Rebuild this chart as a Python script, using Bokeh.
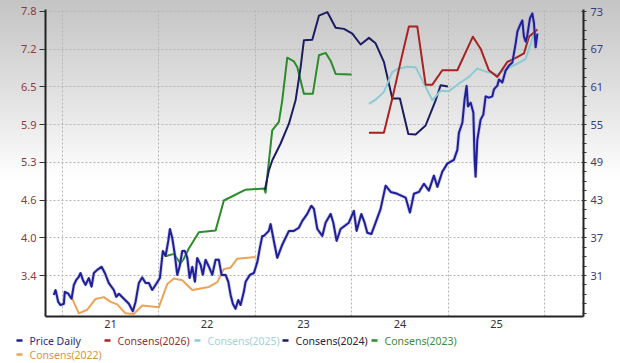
from bokeh.plotting import figure
from bokeh.models import Range1d, LinearAxis, FixedTicker, ColumnDataSource
from bokeh.embed import file_html
from bokeh.resources import INLINE

# ---------------- data ----------------
price_dates = [2020.412, 2020.430, 2020.458, 2020.482, 2020.516, 2020.526, 2020.562, 2020.596, 2020.620, 2020.645,
               2020.671, 2020.689, 2020.713, 2020.741, 2020.775, 2020.803, 2020.827, 2020.862, 2020.907, 2020.941,
               2020.982, 2021.034, 2021.059, 2021.086, 2021.138, 2021.190, 2021.231, 2021.259, 2021.293, 2021.328,
               2021.363, 2021.397, 2021.432, 2021.466, 2021.511, 2021.542, 2021.570, 2021.598, 2021.615, 2021.639,
               2021.666, 2021.691, 2021.715, 2021.743, 2021.770, 2021.795, 2021.819, 2021.847, 2021.874, 2021.898,
               2021.933, 2021.956, 2021.984, 2022.019, 2022.054, 2022.088, 2022.122, 2022.150, 2022.192, 2022.220,
               2022.244, 2022.267, 2022.295, 2022.323, 2022.347, 2022.381, 2022.399, 2022.444, 2022.485, 2022.520,
               2022.547, 2022.572, 2022.589, 2022.640, 2022.658, 2022.692, 2022.727, 2022.779, 2022.848, 2022.899,
               2022.951, 2022.987, 2023.038, 2023.080, 2023.107, 2023.142, 2023.194, 2023.228, 2023.280, 2023.308,
               2023.342, 2023.383, 2023.469, 2023.521, 2023.549, 2023.598, 2023.632, 2023.660, 2023.702, 2023.746,
               2023.798, 2023.850, 2023.902, 2023.971, 2024.057, 2024.102, 2024.143, 2024.195, 2024.247, 2024.298,
               2024.350, 2024.386, 2024.437, 2024.489, 2024.557, 2024.593, 2024.609, 2024.645, 2024.668, 2024.689,
               2024.703, 2024.731, 2024.759, 2024.772, 2024.782, 2024.800, 2024.834, 2024.862, 2024.886, 2024.920,
               2024.955, 2024.972, 2025.007, 2025.024, 2025.059, 2025.093, 2025.128, 2025.163, 2025.197, 2025.215,
               2025.241, 2025.266, 2025.283, 2025.301, 2025.318, 2025.345, 2025.370, 2025.387, 2025.404, 2025.422]
price_values = [27.9, 28.7, 26.8, 26.3, 26.5, 28.4, 28.1, 27.3, 29.5, 30.3,
                30.8, 31.4, 30.3, 29.5, 30.6, 29.2, 31.4, 31.9, 32.4, 31.4,
                29.8, 28.7, 27.6, 28.1, 27.3, 26.5, 25.3, 26.8, 29.8, 30.7,
                29.8, 29.8, 28.7, 29.5, 30.6, 34.9, 34.1, 36.5, 38.4, 37.0,
                34.3, 31.1, 32.4, 34.9, 34.9, 33.8, 30.6, 32.4, 30.0, 33.8,
                32.7, 31.1, 33.5, 32.4, 31.1, 33.5, 33.5, 31.1, 31.1, 30.0,
                27.9, 26.5, 25.7, 27.1, 26.3, 28.4, 30.0, 31.1, 31.4, 33.1,
                35.4, 37.3, 37.3, 38.1, 39.2, 36.5, 33.8, 35.9, 38.1, 38.1,
                38.6, 39.7, 40.8, 42.1, 41.6, 38.4, 37.3, 39.4, 40.8, 39.4,
                36.5, 38.4, 39.4, 41.3, 38.1, 40.8, 39.4, 37.8, 37.6, 39.4,
                41.6, 45.3, 44.3, 44.0, 43.4, 41.0, 44.0, 44.3, 45.6, 44.5,
                46.9, 45.1, 47.5, 48.8, 49.4, 51.0, 53.7, 55.3, 59.0, 61.2,
                57.9, 58.5, 56.9, 49.4, 46.7, 52.6, 55.8, 56.6, 59.5, 59.3,
                59.5, 60.6, 61.2, 62.2, 61.7, 63.6, 64.4, 64.9, 67.9, 69.8,
                70.8, 71.6, 69.0, 68.2, 69.2, 71.9, 72.7, 71.1, 67.3, 69.5]

cons2022_dates = [2020.596, 2020.671, 2020.759, 2020.845, 2020.931, 2021.000, 2021.069, 2021.155, 2021.241, 2021.328,
                  2021.500, 2021.588, 2021.656, 2021.743, 2021.847, 2022.019, 2022.106, 2022.174, 2022.244, 2022.313,
                  2022.503]
cons2022_values = [3.04, 2.77, 2.83, 3.01, 3.04, 2.96, 2.92, 2.77, 2.76, 2.90,
                   2.87, 3.26, 3.35, 3.32, 3.16, 3.21, 3.29, 3.51, 3.53, 3.68,
                   3.71]

cons2023_dates = [2021.570, 2021.656, 2021.725, 2021.759, 2021.811, 2021.915, 2022.088, 2022.174, 2022.399, 2022.589,
                  2022.606, 2022.675, 2022.744, 2022.779, 2022.831, 2022.899, 2022.935, 2023.003, 2023.096, 2023.159,
                  2023.228, 2023.280, 2023.332, 2023.497]
cons2023_values = [3.72, 3.76, 3.60, 3.68, 3.85, 4.12, 4.15, 4.65, 4.83, 4.85,
                   4.78, 5.82, 5.96, 6.32, 7.03, 6.97, 6.87, 6.43, 6.43, 7.07,
                   7.11, 6.98, 6.76, 6.75]

cons2024_dates = [2022.599, 2022.640, 2022.676, 2022.762, 2022.848, 2022.917, 2022.969, 2023.003, 2023.090, 2023.159,
                  2023.246, 2023.332, 2023.418, 2023.505, 2023.591, 2023.677, 2023.746, 2023.832, 2023.919, 2023.998,
                  2024.085, 2024.161, 2024.264, 2024.368, 2024.420, 2024.495]
cons2024_values = [4.83, 5.15, 5.32, 5.60, 5.93, 6.32, 6.87, 7.32, 7.33, 7.73,
                   7.79, 7.53, 7.51, 7.43, 7.25, 7.36, 7.27, 6.96, 6.35, 6.35,
                   5.76, 5.75, 5.90, 6.32, 6.57, 6.55]

cons2025_dates = [2023.677, 2023.746, 2023.832, 2023.919, 2023.971, 2024.075, 2024.161, 2024.247, 2024.334, 2024.420,
                  2024.506, 2024.609, 2024.713, 2024.800, 2024.903, 2025.007, 2025.111, 2025.214, 2025.301, 2025.387]
cons2025_values = [6.26, 6.33, 6.46, 6.79, 6.84, 6.88, 6.87, 6.60, 6.32, 6.48,
                   6.47, 6.60, 6.71, 6.85, 6.79, 6.75, 6.85, 6.93, 7.01, 7.43]

cons2026_dates = [2023.677, 2023.832, 2023.919, 2024.005, 2024.091, 2024.178, 2024.264, 2024.334, 2024.437, 2024.593,
                  2024.754, 2024.834, 2024.920, 2025.007, 2025.111, 2025.214, 2025.283, 2025.335, 2025.422]
cons2026_values = [5.78, 5.78, 6.35, 6.96, 7.55, 7.55, 6.58, 6.58, 6.82, 6.82,
                   7.38, 7.18, 6.82, 6.71, 6.96, 7.04, 7.10, 7.38, 7.50]

eps_ticks = [3.4, 4.0286, 4.6571, 5.2857, 5.9143, 6.5429, 7.1714, 7.8]
eps_tick_labels = ["3.4", "4.0", "4.6", "5.3", "5.9", "6.5", "7.2", "7.8"]
price_ticks = [31, 37, 43, 49, 55, 61, 67, 73]
year_ticks = [2021, 2022, 2023, 2024, 2025]
year_labels = ["21", "22", "23", "24", "25"]
year_grid = [2020.5, 2021.5, 2022.5, 2023.5, 2024.5, 2025.5]

legend_names = ["Price Daily", "Consens(2026)", "Consens(2025)", "Consens(2024)", "Consens(2023)", "Consens(2022)"]
line_colors = ["#1f1f98", "#a82222", "#8ccbd4", "#1c1c62", "#2a8c2a", "#eba455"]
legend_text_colors = ["#2b2b80", "#8e3232", "#a3d0d8", "#25253f", "#3c8c3c", "#d8943c"]

FONT = "Noto Sans"

# ---------------- main figure ----------------
p = figure(width=620, height=334, output_backend="svg", toolbar_location=None,
           x_range=Range1d(2020.326, 2025.900), y_range=Range1d(2.717, 7.833),
           min_border_left=45, min_border_right=37, min_border_top=9, min_border_bottom=18)
p.border_fill_color = None
p.background_fill_color = None
p.outline_line_color = None
p.styles = {"background": "linear-gradient(to bottom, #c4c4c4 0px, #e6e6e6 110px, #ffffff 180px)"}

p.extra_y_ranges = {"price": Range1d(24.48, 73.32)}

# left axis (EPS)
ya = p.yaxis[0]
ya.ticker = FixedTicker(ticks=eps_ticks)
ya.major_label_overrides = {t: l for t, l in zip(eps_ticks, eps_tick_labels)}
ya.axis_line_color = "#222222"
ya.axis_line_width = 2
ya.major_tick_out = 6
ya.major_tick_in = 0
ya.minor_tick_out = 0
ya.minor_tick_in = 0
ya.major_tick_line_color = "#333333"
ya.major_label_standoff = 3
ya.major_label_text_color = "#8b3b3b"
ya.major_label_text_font = FONT
ya.major_label_text_font_size = "11px"

# right axis (price)
ra = LinearAxis(y_range_name="price",
                ticker=FixedTicker(ticks=price_ticks,
                                   minor_ticks=[25, 26.5, 28, 29.5, 32.5, 34, 35.5, 38.5, 40, 41.5, 44.5, 46, 47.5,
                                                50.5, 52, 53.5, 56.5, 58, 59.5, 62.5, 64, 65.5, 68.5, 70, 71.5]))
ra.axis_line_color = "#222222"
ra.axis_line_width = 2
ra.major_tick_out = 3
ra.major_tick_in = 2
ra.minor_tick_out = 3
ra.minor_tick_in = 1
ra.major_tick_line_color = "#333333"
ra.minor_tick_line_color = "#333333"
ra.major_label_standoff = 4
ra.major_label_text_color = "#3b3b7a"
ra.major_label_text_font = FONT
ra.major_label_text_font_size = "11px"
p.add_layout(ra, "right")

# bottom axis
xa = p.xaxis[0]
xa.ticker = FixedTicker(ticks=year_ticks)
xa.major_label_overrides = {t: l for t, l in zip(year_ticks, year_labels)}
xa.axis_line_color = "#222222"
xa.axis_line_width = 2
xa.major_tick_out = 0
xa.major_tick_in = 0
xa.minor_tick_out = 0
xa.minor_tick_in = 0
xa.major_label_standoff = 3
xa.major_label_text_color = "#333333"
xa.major_label_text_font = FONT
xa.major_label_text_font_size = "11px"

# grids
p.ygrid.ticker = FixedTicker(ticks=eps_ticks)
p.xgrid.ticker = FixedTicker(ticks=year_grid)
for g in (p.xgrid[0], p.ygrid[0]):
    g.grid_line_color = "#b4b4b4"
    g.grid_line_dash = "2 2"
    g.grid_line_width = 1

# consensus lines (EPS, left axis)
cons = [(cons2022_dates, cons2022_values, line_colors[5]),
        (cons2023_dates, cons2023_values, line_colors[4]),
        (cons2024_dates, cons2024_values, line_colors[3]),
        (cons2025_dates, cons2025_values, line_colors[2]),
        (cons2026_dates, cons2026_values, line_colors[1])]
for d, v, c in cons:
    p.line(x=d, y=v, line_color=c, line_width=2, line_join="round")

# price line (right axis)
p.line(x=price_dates, y=price_values, y_range_name="price", line_color="#9a9ad8", line_width=3.5, line_alpha=0.5)
p.line(x=price_dates, y=price_values, y_range_name="price", line_color=line_colors[0], line_width=2, line_join="round")

# ---------------- legend strip (separate root, so its frame is not aligned to the chart's) ----------------
leg = figure(width=620, height=29, output_backend="svg", toolbar_location=None,
             x_range=Range1d(0, 620), y_range=Range1d(29, 0),
             min_border=0, min_border_left=0, min_border_right=0, min_border_top=0, min_border_bottom=0)
leg.axis.visible = False
leg.grid.visible = False
leg.outline_line_color = None
leg.border_fill_color = "white"
leg.background_fill_color = "white"

leg_text_x = [29, 117, 207, 295, 384, 29]
leg_row_y = [6, 6, 6, 6, 6, 20]
src = ColumnDataSource(dict(
    x=leg_text_x, y=leg_row_y, name=legend_names, tcol=legend_text_colors, lcol=line_colors,
    x0=[x - 13 for x in leg_text_x], x1=[x - 7 for x in leg_text_x]))
leg.segment(x0="x0", y0="y", x1="x1", y1="y", line_color="lcol", line_width=2.5, source=src)
leg.text(x="x", y="y", text="name", text_color="tcol", text_font_size="10.5px",
         text_baseline="middle", text_align="left", text_font={"value": FONT}, source=src)

open("out.html", "w").write(file_html([p, leg], INLINE))
